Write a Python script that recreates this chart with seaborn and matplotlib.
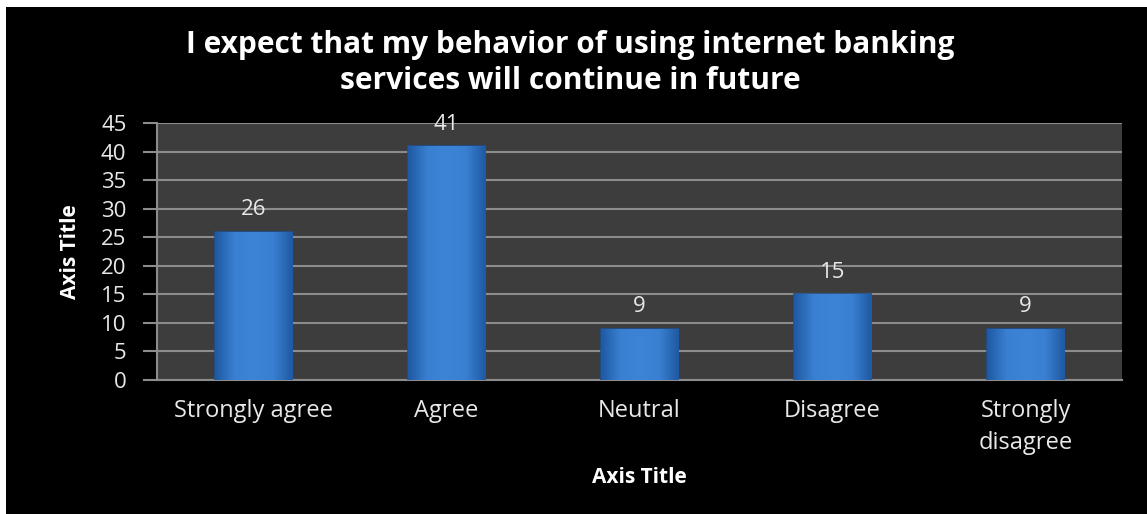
import matplotlib
matplotlib.use("Agg")
import matplotlib.pyplot as plt
import seaborn as sns
import pandas as pd
import numpy as np
from matplotlib.patches import Rectangle
from matplotlib.colors import LinearSegmentedColormap

categories = ["Strongly agree", "Agree", "Neutral", "Disagree", "Strongly\ndisagree"]
values = [26, 41, 9, 15, 9]
y_ticks = [0, 5, 10, 15, 20, 25, 30, 35, 40, 45]
title = "I expect that my behavior of using internet banking\nservices will continue in future"

sns.set_theme(style="dark")
plt.rcParams['font.family'] = ['Open Sans', 'DejaVu Sans']

W, H = 1147, 514
fig = plt.figure(figsize=(W / 100, H / 100), dpi=100, facecolor="black")
fig.patches.append(Rectangle((0, 1 - 7 / H), 1, 7 / H, transform=fig.transFigure,
                             facecolor="white", edgecolor="none"))
fig.patches.append(Rectangle((0, 0), 6 / W, 1, transform=fig.transFigure,
                             facecolor="white", edgecolor="none"))

ax = fig.add_axes([157 / W, (H - 380) / H, (1122 - 157) / W, (380 - 123) / H])
ax.set_facecolor("#3d3d3d")

df = pd.DataFrame({"cat": categories, "val": values})
sns.barplot(data=df, x="cat", y="val", color="#3579c9", width=0.4, ax=ax,
            edgecolor="#1d4e8c", linewidth=1.2, saturation=1, zorder=3)

# subtle horizontal shading inside each bar (clipped to the bar patch)
cmap = LinearSegmentedColormap.from_list("bevel", ["#1f5aa3", "#3a80d2", "#3d84d6", "#3a80d2", "#1f5aa3"])
grad = np.linspace(0, 1, 64).reshape(1, -1)
for p in ax.patches:
    x0, y0 = p.get_x(), p.get_y()
    w, h = p.get_width(), p.get_height()
    im = ax.imshow(grad, cmap=cmap, aspect="auto", extent=(x0, x0 + w, y0, y0 + h),
                   zorder=3.5, interpolation="bicubic")
    im.set_clip_path(p)

for cont in ax.containers:
    ax.bar_label(cont, labels=[str(v) for v in values], padding=8, color="#e8e8e8",
                 fontsize=16)

ax.set_ylim(0, 45)
ax.set_yticks(y_ticks)
ax.set_xlim(-0.5, len(categories) - 0.5)
ax.grid(axis="y", color="#8c8c8c", linewidth=1.5, zorder=1)
ax.grid(axis="x", visible=False)
ax.set_axisbelow(True)

for s in ["top", "right"]:
    ax.spines[s].set_visible(False)
for s in ["left", "bottom"]:
    ax.spines[s].set_visible(True)
    ax.spines[s].set_color("#8c8c8c")
    ax.spines[s].set_linewidth(1.5)

ax.tick_params(axis="y", which="major", direction="out", length=10, width=1.5,
               color="#8c8c8c", labelcolor="#e8e8e8", labelsize=16, pad=12, left=True)
ax.tick_params(axis="x", length=0, labelcolor="#e8e8e8", labelsize=17, pad=14)
for lbl in ax.get_xticklabels():
    lbl.set_linespacing(1.4)

ax.set_xlabel("Axis Title", color="white", fontsize=15, fontweight="bold", labelpad=9)
ax.set_ylabel("Axis Title", color="white", fontsize=15, fontweight="bold", labelpad=14)

fig.text(0.497, (H - 63) / H, title, ha="center", va="center", color="white",
         fontsize=21.5, fontweight="bold", linespacing=1.25)

fig.savefig("out.png", dpi=100, facecolor=fig.get_facecolor())
